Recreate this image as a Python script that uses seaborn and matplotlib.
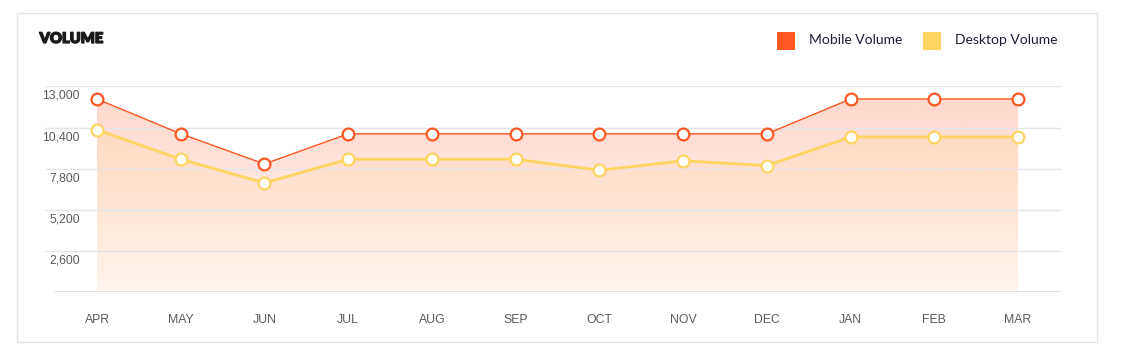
import numpy as np
import pandas as pd
import matplotlib
matplotlib.use("Agg")
import matplotlib.pyplot as plt
import matplotlib.transforms as mtransforms
import matplotlib.patheffects as pe
from matplotlib.patches import Rectangle
import seaborn as sns

months = ["APR", "MAY", "JUN", "JUL", "AUG", "SEP", "OCT", "NOV", "DEC", "JAN", "FEB", "MAR"]
mobile = [12200, 10000, 8100, 10000, 10000, 10000, 10000, 10000, 10000, 12200, 12200, 12200]
desktop = [10250, 8400, 6900, 8400, 8400, 8400, 7700, 8300, 8000, 9800, 9800, 9800]
yticks = [2600, 5200, 7800, 10400, 13000]
ytick_labels = ["2,600", "5,200", "7,800", "10,400", "13,000"]
series_names = ["Mobile Volume", "Desktop Volume"]
title = "VOLUME"

MOBILE_C = "#FF5722"
DESKTOP_C = "#FFD460"

sns.set_theme(style="white")
plt.rcParams["font.family"] = ["Liberation Sans", "DejaVu Sans"]

W, H = 1121, 354
fig = plt.figure(figsize=(W / 100, H / 100), dpi=100)
fig.patch.set_facecolor("white")

def fx(px):
    return px / W

def fy(py):
    return 1 - py / H

ax = fig.add_axes([fx(45), fy(292.3), fx(1061) - fx(45), fy(86.3) - fy(292.3)])
ax.set_facecolor("none")

df = pd.DataFrame({"month": months * 2,
                   "value": mobile + desktop,
                   "series": [series_names[0]] * len(months) + [series_names[1]] * len(months)})
xpos = np.arange(len(months))

# gradient fills
def gradient_fill(yvals, rgb, a_top, a_bot, z):
    poly = ax.fill_between(xpos, 0, yvals, facecolor="none", edgecolor="none")
    n = 256
    alphas = np.linspace(a_top, a_bot, n)
    img = np.zeros((n, 1, 4))
    img[:, 0, :3] = matplotlib.colors.to_rgb(rgb)
    img[:, 0, 3] = alphas
    im = ax.imshow(img, aspect="auto", extent=[xpos[0], xpos[-1], 0, 13000],
                   origin="upper", zorder=z, interpolation="bilinear")
    im.set_clip_path(poly.get_paths()[0], transform=ax.transData)

gradient_fill(mobile, "#FF6A3D", 0.28, 0.04, 1)
gradient_fill(desktop, "#FFD5A0", 0.38, 0.10, 1.1)

# gridlines
for yt in yticks:
    ax.axhline(yt, color="#e4e4ea", lw=1, zorder=1.5)
ax.axhline(0, xmin=10 / 1016, color="#dcdce2", lw=1.2, zorder=1.5)

sns.lineplot(data=df[df.series == series_names[1]], x="month", y="value", ax=ax,
             color=DESKTOP_C, lw=2, marker="o", markersize=8.5, markerfacecolor="white",
             markeredgecolor=DESKTOP_C, markeredgewidth=1.6, zorder=3, sort=False)
sns.lineplot(data=df[df.series == series_names[0]], x="month", y="value", ax=ax,
             color=MOBILE_C, lw=1, marker="o", markersize=8.5, markerfacecolor="white",
             markeredgecolor=MOBILE_C, markeredgewidth=1.6, zorder=4, sort=False)

x0 = -52 / 83.73
x1 = x0 + 1016 / 83.73
ax.set_xlim(x0, x1)
ax.set_ylim(0, 13000)
ax.set_xlabel("")
ax.set_ylabel("")
ax.set_yticks([])
ax.set_xticks(xpos)
ax.set_xticklabels(months, fontsize=8.8, color="#5a5a5a")
ax.tick_params(axis="x", length=0, pad=15.5)
for s in ax.spines.values():
    s.set_visible(False)

# y labels placed below gridlines
trans = mtransforms.offset_copy(ax.get_yaxis_transform(), fig=fig, y=-9.5, units="dots")
for yt, lab in zip(yticks, ytick_labels):
    ax.text((80 - 45) / 1016, yt, lab, transform=trans, ha="right", va="center",
            fontsize=8.8, color="#5a5a5a")

# card border
fig.add_artist(Rectangle((fx(17), fy(342)), fx(1097) - fx(17), fy(13) - fy(342),
                         transform=fig.transFigure, facecolor="none",
                         edgecolor="#e2e2e8", lw=1))

# title
fig.text(fx(39.5), fy(38.5), title, ha="left", va="center", fontsize=10.6,
         fontweight="heavy", color="#1b1b1b", family=["Lato", "DejaVu Sans"],
         path_effects=[pe.withStroke(linewidth=0.9, foreground="#1b1b1b")])

# legend
for (sx, tx, name, col) in [(777, 809, series_names[0], MOBILE_C), (923, 955, series_names[1], DESKTOP_C)]:
    fig.add_artist(Rectangle((fx(sx), fy(50)), fx(18), fy(32) - fy(50),
                             transform=fig.transFigure, facecolor=col, edgecolor="none"))
    fig.text(fx(tx), fy(40.5), name, ha="left", va="center", fontsize=10.0,
             color="#1d1d33", family=["Lato", "DejaVu Sans"])

fig.savefig("out.png", dpi=100, facecolor="white")
